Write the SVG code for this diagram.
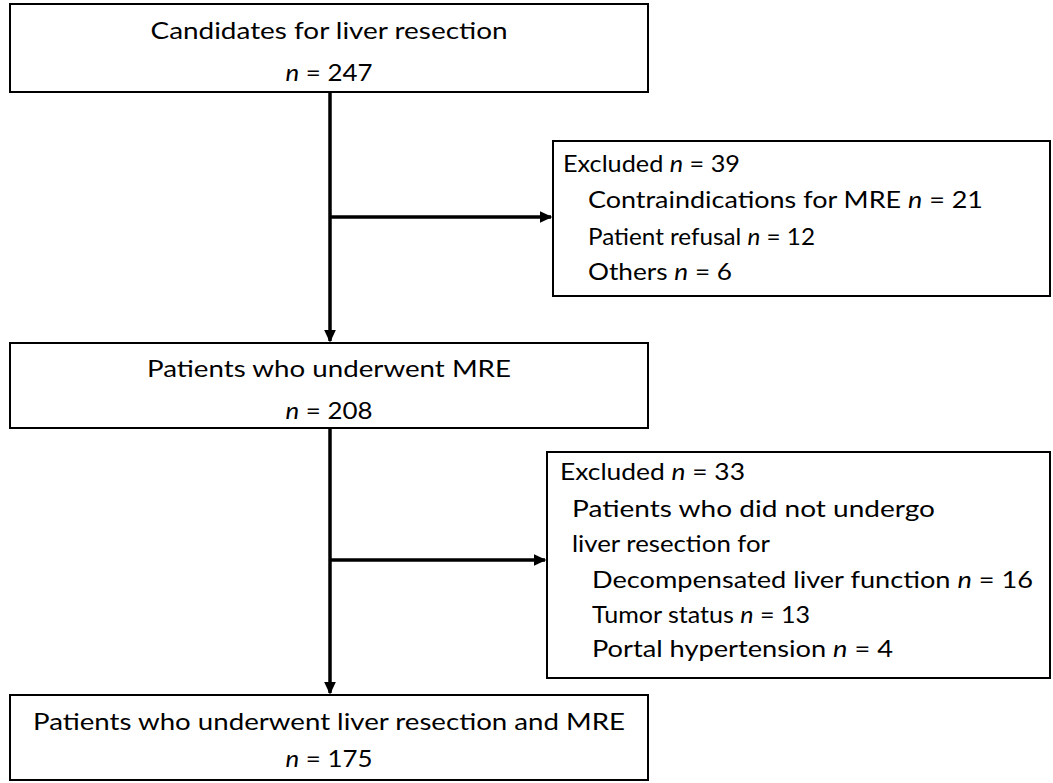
<svg xmlns="http://www.w3.org/2000/svg" width="1053" height="783" viewBox="0 0 1053 783">
<style>
.box{fill:#fff;stroke:#000;stroke-width:2}
.t{font-family:Lato,"Liberation Sans",Arial,sans-serif;font-size:24px;fill:#000}
.c{text-anchor:middle}
.i{font-style:italic}
.ln{fill:none;stroke:#000;stroke-width:3.5}
</style>
<defs>
<marker id="ah" markerWidth="4" markerHeight="4" refX="3.2" refY="2" orient="auto" markerUnits="strokeWidth">
<path d="M0,0.3 L3.6,2 L0,3.7 Z" fill="#000"/>
</marker>
</defs>
<rect width="1053" height="783" fill="#fff"/>
<g id="connectors">
<line class="ln" x1="330" y1="92" x2="330" y2="341" marker-end="url(#ah)"/>
<line class="ln" x1="330" y1="217" x2="551" y2="217" marker-end="url(#ah)"/>
<line class="ln" x1="330" y1="428" x2="330" y2="693" marker-end="url(#ah)"/>
<line class="ln" x1="330" y1="560" x2="545" y2="560" marker-end="url(#ah)"/>
</g>
<g id="n1">
<rect class="box" x="10" y="4" width="638" height="88"/>
<text class="t c" x="329" y="39" textLength="357" lengthAdjust="spacingAndGlyphs">Candidates for liver resection</text>
<text class="t c" x="329" y="81" textLength="87" lengthAdjust="spacingAndGlyphs"><tspan class="i">n</tspan> = 247</text>
</g>
<g id="ex1">
<rect class="box" x="553" y="141" width="497" height="155"/>
<text class="t" x="563" y="172" textLength="177" lengthAdjust="spacingAndGlyphs">Excluded  <tspan class="i">n</tspan> = 39</text>
<text class="t" x="588" y="208" textLength="395" lengthAdjust="spacingAndGlyphs">Contraindications for MRE <tspan class="i">n</tspan> = 21</text>
<text class="t" x="588" y="245" textLength="227" lengthAdjust="spacingAndGlyphs">Patient refusal <tspan class="i">n</tspan> = 12</text>
<text class="t" x="588" y="280" textLength="144" lengthAdjust="spacingAndGlyphs">Others <tspan class="i">n</tspan> = 6</text>
</g>
<g id="n2">
<rect class="box" x="10" y="343" width="638" height="85"/>
<text class="t c" x="329" y="377" textLength="364" lengthAdjust="spacingAndGlyphs">Patients who underwent MRE</text>
<text class="t c" x="329" y="419" textLength="87" lengthAdjust="spacingAndGlyphs"><tspan class="i">n</tspan> = 208</text>
</g>
<g id="ex2">
<rect class="box" x="547" y="452" width="503" height="226"/>
<text class="t" x="560" y="480" textLength="185" lengthAdjust="spacingAndGlyphs">Excluded  <tspan class="i">n</tspan> = 33</text>
<text class="t" x="572" y="517" textLength="363" lengthAdjust="spacingAndGlyphs">Patients who did not undergo</text>
<text class="t" x="572" y="552" textLength="198" lengthAdjust="spacingAndGlyphs">liver resection for</text>
<text class="t" x="592" y="588" textLength="441" lengthAdjust="spacingAndGlyphs">Decompensated liver function <tspan class="i">n</tspan> = 16</text>
<text class="t" x="592" y="623" textLength="218" lengthAdjust="spacingAndGlyphs">Tumor status <tspan class="i">n</tspan> = 13</text>
<text class="t" x="592" y="657" textLength="301" lengthAdjust="spacingAndGlyphs">Portal hypertension <tspan class="i">n</tspan> = 4</text>
</g>
<g id="n3">
<rect class="box" x="10" y="695" width="638" height="85"/>
<text class="t c" x="329" y="730" textLength="592" lengthAdjust="spacingAndGlyphs">Patients who underwent liver resection and MRE</text>
<text class="t c" x="329" y="767" textLength="87" lengthAdjust="spacingAndGlyphs"><tspan class="i">n</tspan> = 175</text>
</g>
</svg>
